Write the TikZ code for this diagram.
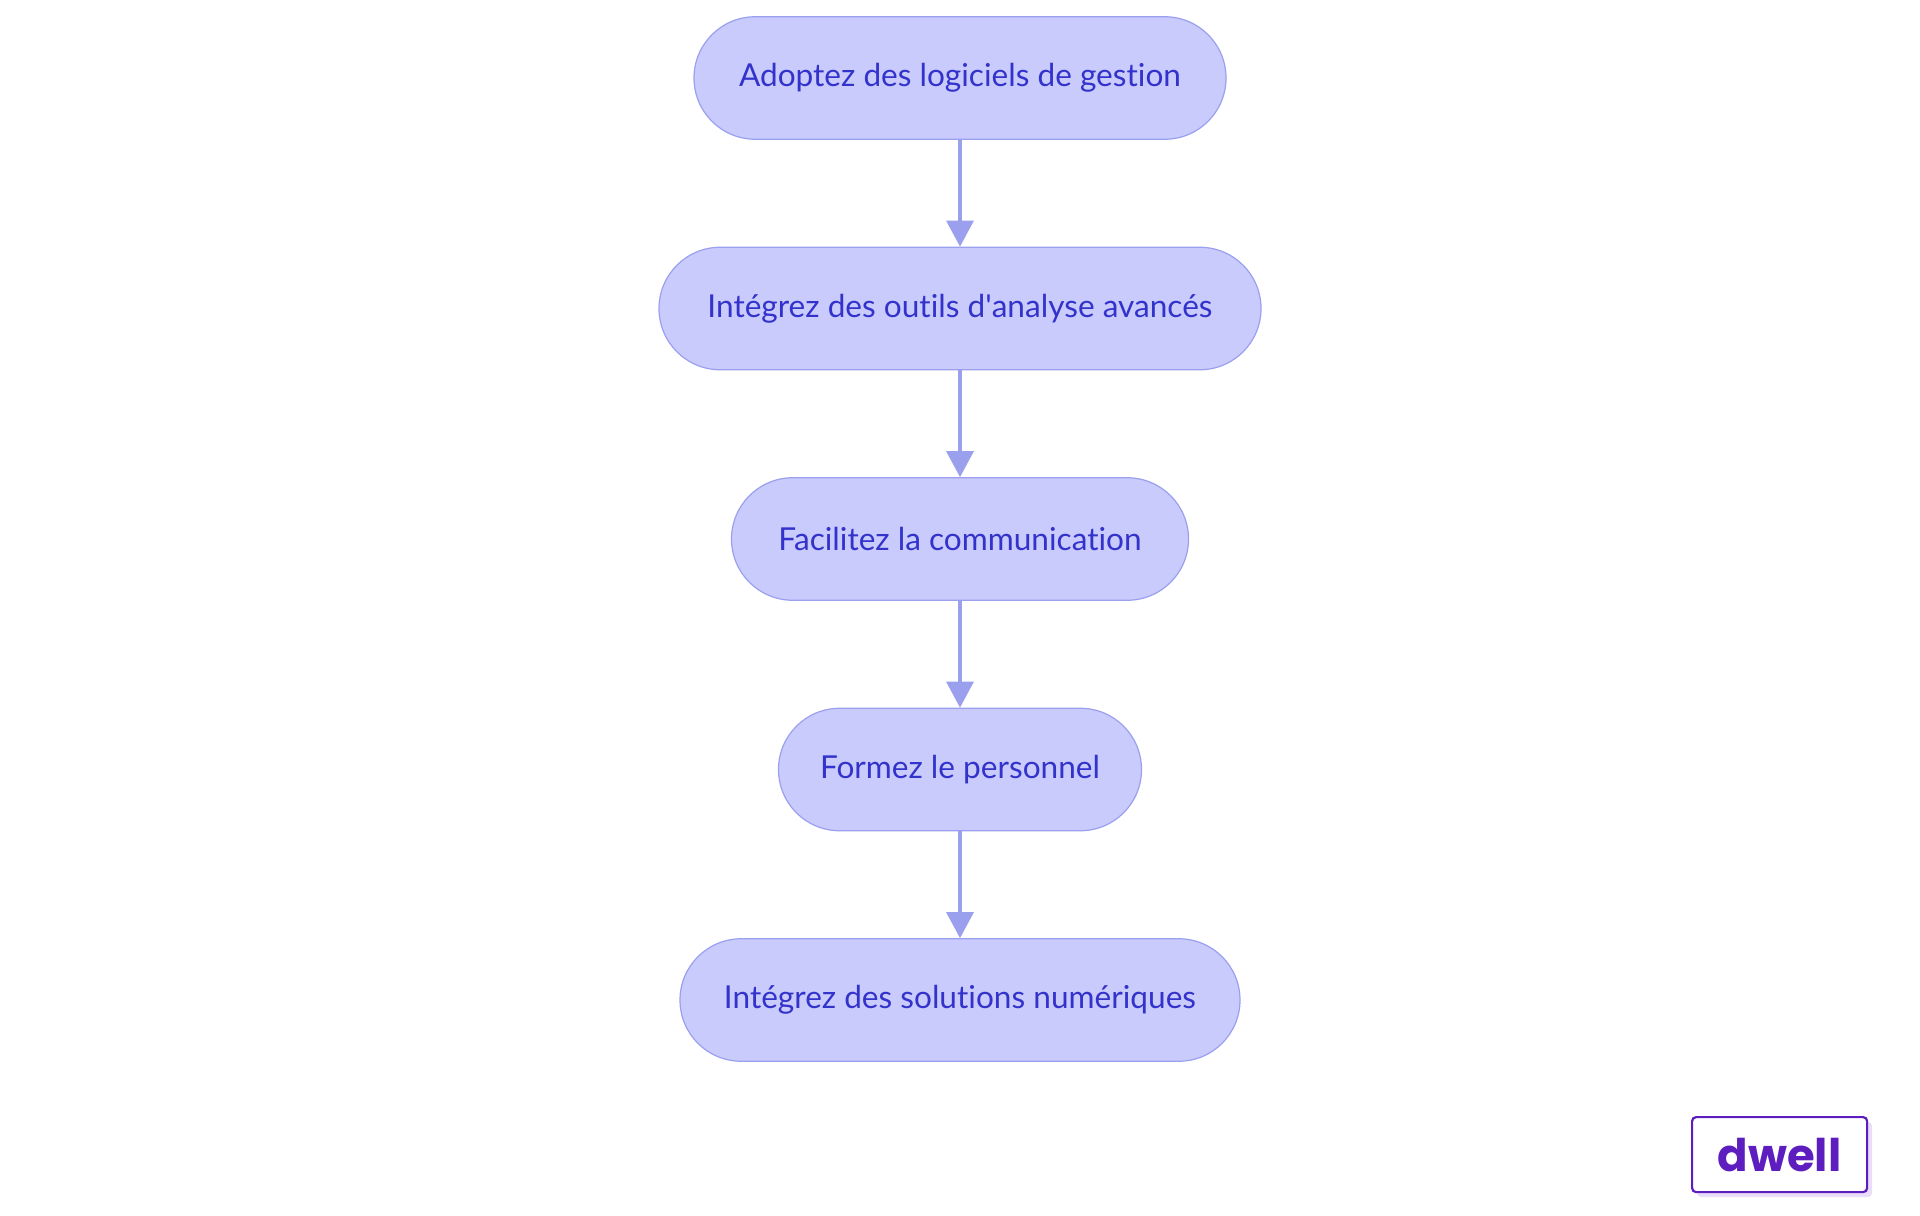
\documentclass[tikz,border=0pt]{standalone}
\usepackage{fontspec}
\setmainfont{Lato}[Ligatures={NoCommon}]
\newfontfamily\logofont{Poppins}
\usetikzlibrary{arrows.meta}
\definecolor{nodefill}{HTML}{C9CBFC}
\definecolor{nodeline}{HTML}{9BA0EE}
\definecolor{nodetext}{HTML}{3333CC}
\definecolor{logopurple}{HTML}{5E1DBE}
\definecolor{logoshadow}{HTML}{E9DDF9}
\tikzset{
  stepbox/.style={draw=nodeline, fill=nodefill, line width=0.6pt,
    rounded corners=30.6pt, minimum height=61.25pt, inner sep=0pt,
    text=nodetext, font=\fontsize{15.8}{18}\selectfont},
  flow/.style={draw=nodeline, line width=1.6pt,
    -{Triangle[length=13pt,width=13.5pt]}, shorten >=0pt}
}
\begin{document}
\begin{tikzpicture}[x=0.5pt,y=-0.5pt]
\useasboundingbox[fill=white] (0,0) rectangle (1920,1215);
\node[stepbox, minimum width=266pt] (n1) at (960,78) {Adoptez des logiciels de gestion};
\node[stepbox, minimum width=301pt] (n2) at (960,308.5) {Intégrez des outils d\textquotesingle analyse avancés};
\node[stepbox, minimum width=228.5pt] (n3) at (960,539) {Facilitez la communication};
\node[stepbox, minimum width=181.5pt] (n4) at (960,769.5) {Formez le personnel};
\node[stepbox, minimum width=280pt] (n5) at (960,1000) {Intégrez des solutions numériques};
\draw[flow] (n1) -- (n2);
\draw[flow] (n2) -- (n3);
\draw[flow] (n3) -- (n4);
\draw[flow] (n4) -- (n5);
\fill[logoshadow, rounded corners=2pt] (1697,1122) rectangle (1872,1197);
\node[draw=logopurple, fill=white, line width=1.1pt, rounded corners=2pt,
  minimum width=87.5pt, minimum height=37.5pt, inner sep=0pt, anchor=north west,
  text=logopurple, font=\logofont\bfseries\fontsize{22.5}{24}\selectfont] (logo) at (1691,1116) {dwell};
\end{tikzpicture}
\end{document}
